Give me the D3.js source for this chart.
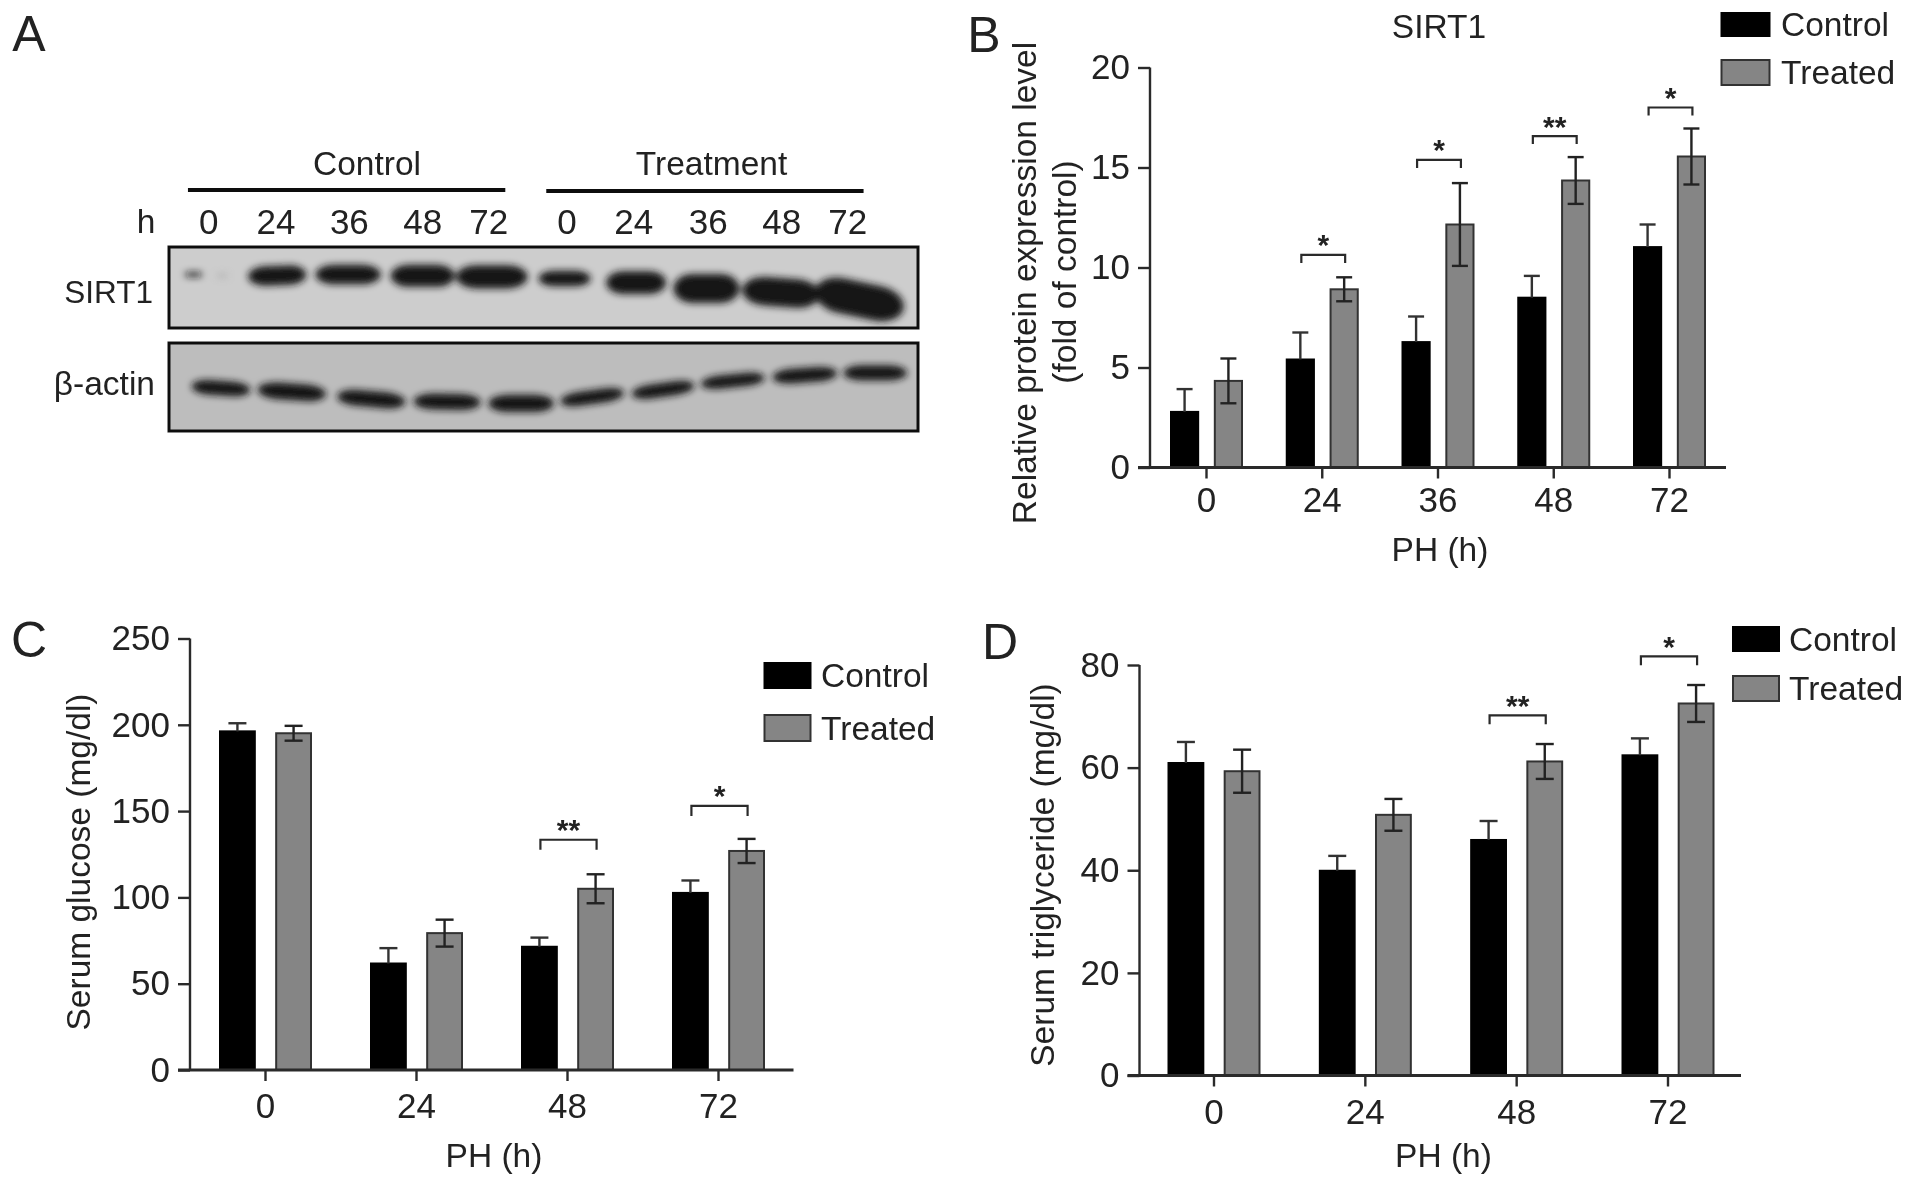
<!DOCTYPE html>
<html><head><meta charset="utf-8">
<script src="https://d3js.org/d3.v7.min.js"></script>
<style>html,body{margin:0;padding:0;background:#fff}svg{display:block}text{font-family:"Liberation Sans",Arial,sans-serif;fill:#222}</style>
</head><body>
<script>
const seriesNames = ["Control","Treated"];
const sirtCats = ["0","24","36","48","72"];
const sirtControl = [2.78,5.4,6.27,8.49,11.02];
const sirtControlErr = [1.14,1.35,1.28,1.09,1.13];
const sirtTreated = [4.33,8.91,12.15,14.35,15.55];
const sirtTreatedErr = [1.12,0.6,2.07,1.17,1.4];
const sirtBrackets = [["24",10.63,"*"],["36",15.38,"*"],["48",16.57,"**"],["72",18.0,"*"]];
const sirtTicks = [0,5,10,15,20];

const cats4 = ["0","24","48","72"];
const gluControl = [196.2,61.7,71.4,102.6];
const gluControlErr = [4.7,8.9,5.3,7.2];
const gluTreated = [195.1,79.3,105,126.9];
const gluTreatedErr = [4.3,7.8,8.4,7];
const gluBrackets = [["48",133.4,"**"],["72",153,"*"]];
const gluTicks = [0,50,100,150,200,250];

const triControl = [60.9,39.9,45.9,62.4];
const triControlErr = [4.1,2.9,3.7,3.3];
const triTreated = [59.3,50.8,61.2,72.5];
const triTreatedErr = [4.2,3.1,3.4,3.6];
const triBrackets = [["48",70.2,"**"],["72",81.7,"*"]];
const triTicks = [0,20,40,60,80];

// Western blot readings, in gel units
const laneLabels = ["0","24","36","48","72","0","24","36","48","72"];
const laneGelX = [340,450,570,690,798,926,1035,1157,1277,1385];
const sirtBandX = [315,362,452,568,690,803,922,1039,1154,1276,1404];
const sirtBandY = [823,826,826,823,827,830,835,848,866,878,900];
const sirtBandW = [28,18,95,107,105,117,85,98,108,127,148];
const sirtBandH = [14,10,60,60,68,72,48,70,90,88,108];
const sirtBandTilt = [0,0,-2,0,0,0,0,0,0,4,12];
const actinBandX = [360,476,606,730,851,967,1083,1197,1315,1430];
const actinBandY = [1166,1177,1199,1207,1212,1193,1171,1144,1127,1120];
const actinBandW = [96,112,112,110,107,105,103,105,106,104];
const actinBandH = [44,50,48,48,52,42,42,40,44,46];
const actinBandTilt = [4,4,5,1,0,-8,-8,-6,-4,0];

const W = 1913, H = 1187;
const svg = d3.select("body").append("svg").attr("width",W).attr("height",H).attr("viewBox",`0 0 ${W} ${H}`);
const defs = svg.append("defs");
defs.append("filter").attr("id","bandBlur").attr("x","-30%").attr("y","-50%").attr("width","160%").attr("height","200%")
  .append("feGaussianBlur").attr("stdDeviation",3.5);
defs.append("filter").attr("id","soft").append("feGaussianBlur").attr("stdDeviation",0.6);

const FS = 33.5, TICK_FS = 35, colors = ["#000","#858585"], stroke = "#2a2a2a";
const root = svg.append("g").attr("filter","url(#soft)");

function label(g,x,y,t,opt={}){
  return g.append("text").attr("x",x).attr("y",y).attr("text-anchor",opt.anchor||"middle")
    .attr("dominant-baseline","central").attr("font-size",opt.size||FS).attr("font-weight",opt.weight||null)
    .attr("transform",opt.rotate?`rotate(-90 ${x} ${y})`:null).text(t);
}

function panel(o){
  const g = root.append("g");
  const step = (o.tickLast-o.tickFirst)/(o.cats.length-1);
  const x0 = d3.scaleBand().domain(o.cats).range([o.tickFirst-step/2,o.tickLast+step/2]);
  const x1 = d3.scaleBand().domain(seriesNames).range([-o.half,o.half]).paddingInner(0.38);
  const y = d3.scaleLinear().domain(o.domain).range([o.y0,o.yTop]);
  const cx = (c,s)=>x0(c)+x0.bandwidth()/2+x1(s)+x1.bandwidth()/2;

  // bars + error bars
  [[o.control,o.controlErr],[o.treated,o.treatedErr]].forEach(([vals,errs],si)=>{
    const s = seriesNames[si];
    const rows = o.cats.map((c,i)=>({c,v:vals[i],e:errs[i]}));
    const sg = g.append("g");
    sg.selectAll("rect").data(rows).join("rect")
      .attr("x",d=>cx(d.c,s)-x1.bandwidth()/2).attr("width",x1.bandwidth())
      .attr("y",d=>y(d.v)).attr("height",d=>y(0)-y(d.v))
      .attr("fill",colors[si]).attr("stroke",si?"#333":"#000").attr("stroke-width",2);
    const eg = sg.selectAll("g").data(rows).join("g").attr("stroke",si?"#222":"#333").attr("stroke-width",2.4);
    eg.append("line").attr("x1",d=>cx(d.c,s)).attr("x2",d=>cx(d.c,s))
      .attr("y1",d=>y(si?d.v-d.e:d.v)).attr("y2",d=>y(d.v+d.e));
    (si?[1,-1]:[1]).forEach(k=>eg.append("line").attr("x1",d=>cx(d.c,s)-o.cap).attr("x2",d=>cx(d.c,s)+o.cap)
      .attr("y1",d=>y(d.v+k*d.e)).attr("y2",d=>y(d.v+k*d.e)));
  });

  // axes
  const yAx = g.append("g").attr("transform",`translate(${o.axisX},0)`)
    .call(d3.axisLeft(y).tickValues(o.ticks).tickSize(o.tick).tickSizeOuter(0).tickPadding(8));
  const xAx = g.append("g").attr("transform",`translate(0,${o.y0})`)
    .call(d3.axisBottom(x0).tickSize(o.tick-1).tickPadding(o.xPad).tickSizeOuter(0));
  [yAx,xAx].forEach(a=>{
    a.select(".domain").remove();
    a.selectAll("line").attr("stroke",stroke).attr("stroke-width",2.4);
    a.selectAll("text").attr("font-size",TICK_FS).attr("font-family",null).attr("fill","#222");
  });
  yAx.append("line").attr("y1",y(o.domain[0])).attr("y2",y(o.domain[1])).attr("stroke",stroke).attr("stroke-width",2.4);
  xAx.append("line").attr("x1",o.axisX-o.tick).attr("x2",o.axisEnd).attr("stroke",stroke).attr("stroke-width",2.8);

  // significance brackets
  o.brackets.forEach(([c,v,mark])=>{
    const a=cx(c,"Control")+1, b=cx(c,"Treated")+1, yy=y(v);
    g.append("path").attr("fill","none").attr("stroke",stroke).attr("stroke-width",2.2)
      .attr("d",d3.line()([[a,yy+o.leg],[a,yy],[b,yy],[b,yy+o.leg]]));
    label(g,(a+b)/2,yy-o.starUp,mark,{size:30,weight:"bold"});
  });

  // titles
  label(g,o.xTitle[0],o.xTitle[1],"PH (h)");
  o.yTitles.forEach(([t,xx,yy])=>label(g,xx,yy,t,{rotate:true}));

  // legend
  o.legend.forEach(([x,y0,y1,w,tx],i)=>{
    g.append("rect").attr("x",x).attr("y",y0).attr("width",w).attr("height",y1-y0)
      .attr("fill",colors[i]).attr("stroke",i?"#333":"#000").attr("stroke-width",2);
    label(g,tx,(y0+y1)/2,seriesNames[i],{anchor:"start"});
  });
  label(g,o.letter[0],o.letter[1],o.letter[2],{size:50});
}

panel({cats:sirtCats,control:sirtControl,controlErr:sirtControlErr,treated:sirtTreated,treatedErr:sirtTreatedErr,
  brackets:sirtBrackets,ticks:sirtTicks,domain:[0,20],tickFirst:1206.5,tickLast:1669.5,half:35.5,y0:467.5,yTop:67.5,axisX:1150,axisEnd:1726,
  tick:12,xPad:9,cap:8,leg:8,starUp:10,xTitle:[1440,549],
  yTitles:[["Relative protein expression level",1024,283],["(fold of control)",1064,272]],
  legend:[[1721.5,13,36,48,1781],[1721.5,60,85,48,1781]],letter:[984,35,"B"]});
label(root,1439,26,"SIRT1");

panel({cats:cats4,control:gluControl,controlErr:gluControlErr,treated:gluTreated,treatedErr:gluTreatedErr,
  brackets:gluBrackets,ticks:gluTicks,domain:[0,250],tickFirst:265.5,tickLast:718.5,half:45.5,y0:1070,yTop:638.5,axisX:190,axisEnd:793.5,
  tick:12,xPad:12,cap:9,leg:10,starUp:10,xTitle:[494,1155],
  yTitles:[["Serum glucose (mg/dl)",78,862]],
  legend:[[764.5,663,688,46,821],[764.5,715,741,46,821]],letter:[29,640,"C"]});

panel({cats:cats4,control:triControl,controlErr:triControlErr,treated:triTreated,treatedErr:triTreatedErr,
  brackets:triBrackets,ticks:triTicks,domain:[0,80],tickFirst:1214,tickLast:1668,half:45.5,y0:1075.5,yTop:665,axisX:1139.5,axisEnd:1741,
  tick:12,xPad:12.5,cap:9,leg:9,starUp:10,xTitle:[1443.5,1155],
  yTitles:[["Serum triglyceride (mg/dl)",1042,875]],
  legend:[[1733,627,651,46,1789],[1733,676,701,46,1789]],letter:[1000,642,"D"]});

// Panel A: western blot
const A = root.append("g");
label(A,29,34,"A",{size:50});
const gelX = d3.scaleLinear().domain([275,1500]).range([169,918]);
function blot(top,bottom,gy0,gy1,fill,xs,ys,ws,hs,tilts){
  const gy = d3.scaleLinear().domain([gy0,gy1]).range([top,bottom]);
  const clipId = "clip"+top;
  defs.append("clipPath").attr("id",clipId).append("rect").attr("x",gelX(275)).attr("y",top).attr("width",gelX(1500)-gelX(275)).attr("height",bottom-top);
  A.append("rect").attr("x",gelX(275)).attr("y",top).attr("width",gelX(1500)-gelX(275)).attr("height",bottom-top).attr("fill",fill);
  const rows = xs.map((x,i)=>({x,y:ys[i],w:ws[i],h:hs[i],t:tilts[i]}));
  A.append("g").attr("clip-path",`url(#${clipId})`).append("g").attr("filter","url(#bandBlur)")
    .selectAll("rect").data(rows).join("rect")
    .attr("x",d=>gelX(d.x-d.w/2)).attr("width",d=>gelX(d.x+d.w/2)-gelX(d.x-d.w/2))
    .attr("y",d=>gy(d.y-d.h/2)).attr("height",d=>gy(d.y+d.h/2)-gy(d.y-d.h/2))
    .attr("rx",d=>(gelX(d.x+d.w/2)-gelX(d.x-d.w/2))*0.3).attr("ry",d=>(gy(d.y+d.h/2)-gy(d.y-d.h/2))/2)
    .attr("fill",(d,i)=>d.w<20?"#aaa":"#141414")
    .attr("transform",d=>`rotate(${d.t} ${gelX(d.x)} ${gy(d.y)})`);
  A.append("rect").attr("x",gelX(275)).attr("y",top).attr("width",gelX(1500)-gelX(275)).attr("height",bottom-top)
    .attr("fill","none").attr("stroke","#111").attr("stroke-width",3);
}
blot(247,328,738,988,"#cdcdcd",sirtBandX,sirtBandY,sirtBandW,sirtBandH,sirtBandTilt);
blot(343,431,1030,1295,"#bdbdbd",actinBandX,actinBandY,actinBandW,actinBandH,actinBandTilt);
[[306,825,190,"Control",367],[892,1411,191,"Treatment",711.5]].forEach(([a,b,yy,t,tx])=>{
  A.append("line").attr("x1",gelX(a)).attr("x2",gelX(b)).attr("y1",yy).attr("y2",yy).attr("stroke","#111").attr("stroke-width",4);
  label(A,tx,163,t);
});
A.append("g").selectAll("text").data(laneLabels).join("text")
  .attr("x",(d,i)=>gelX(laneGelX[i])).attr("y",221).attr("text-anchor","middle").attr("dominant-baseline","central")
  .attr("font-size",TICK_FS).text(d=>d);
label(A,146,221,"h");
label(A,153,292,"SIRT1",{anchor:"end",size:31.5});
label(A,155,383,"β-actin",{anchor:"end"});
</script>
</body></html>
